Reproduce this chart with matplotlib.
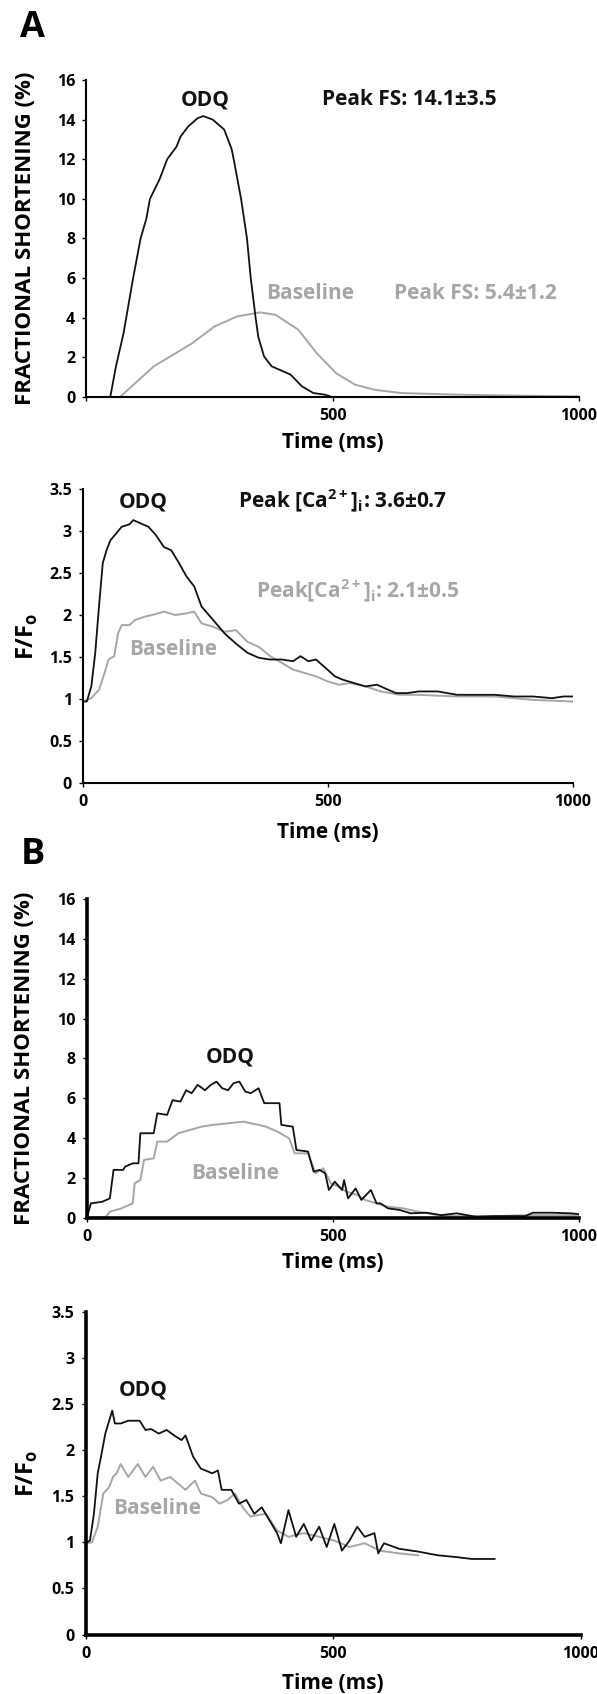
import numpy as np
import matplotlib
matplotlib.use('Agg')
import matplotlib.pyplot as plt

plt.rcParams['font.family'] = ['Open Sans', 'DejaVu Sans']
plt.rcParams['font.weight'] = 'bold'
plt.rcParams['mathtext.fontset'] = 'custom'
plt.rcParams['mathtext.bf'] = 'Open Sans:bold'
plt.rcParams['mathtext.rm'] = 'Open Sans:bold'

BLACK = '#111111'
GRAY = '#a6a6a6'

# ---- panel A, fractional shortening
a_fs_odq_t = [0, 48.5, 60, 75.5, 94.8, 110, 121.7, 129, 148.7, 164, 183, 191, 206.5, 225.7, 237, 256.5, 279.7,
              295, 299, 314, 326, 333.6, 343.6, 349, 360.6, 376, 399, 414.5, 437.6, 460.7, 483.8, 499]
a_fs_odq_v = [0, 0, 1.55, 3.23, 6.0, 8.0, 9.0, 10.0, 11.0, 12.0, 12.64, 13.14, 13.65, 14.07, 14.18, 14.0, 13.5,
              12.5, 12.0, 10.0, 8.0, 6.0, 3.98, 3.03, 2.05, 1.55, 1.3, 1.13, 0.54, 0.2, 0.12, 0.0]
a_fs_base_t = [0, 68, 137, 214, 260, 306.6, 353, 383.7, 430, 468, 507, 545.5, 584, 638, 753, 869, 1000]
a_fs_base_v = [0, 0, 1.55, 2.7, 3.56, 4.07, 4.27, 4.15, 3.4, 2.2, 1.2, 0.62, 0.37, 0.2, 0.12, 0.07, 0.03]

# ---- panel A, calcium transient
a_ca_odq_t = [0, 7.8, 17, 25, 32.6, 40.4, 48, 56, 67.6, 79, 95, 102.6, 118, 133.6, 149, 165, 180, 195.8, 211,
              227, 242, 265.7, 289, 312, 335.7, 359, 382, 405.6, 428.7, 444, 460, 475.5, 498.8, 514, 530, 553,
              576.5, 600, 615, 638.7, 662, 685, 724, 763, 802, 840.7, 879.6, 918, 957, 980.6, 1000]
a_ca_odq_v = [0.97, 0.97, 1.15, 1.55, 2.1, 2.62, 2.77, 2.89, 2.97, 3.05, 3.08, 3.13, 3.09, 3.05, 2.95, 2.81,
              2.77, 2.62, 2.46, 2.34, 2.1, 1.94, 1.78, 1.66, 1.55, 1.49, 1.47, 1.47, 1.45, 1.51, 1.45, 1.47,
              1.35, 1.27, 1.23, 1.19, 1.15, 1.17, 1.13, 1.07, 1.07, 1.09, 1.09, 1.05, 1.05, 1.05, 1.03, 1.03,
              1.01, 1.03, 1.03]
a_ca_base_t = [0, 17, 32.6, 44, 52, 63.7, 71.5, 79, 95, 106, 126, 141, 165, 188, 211, 227, 242, 265.7, 289,
               312, 335.7, 359, 382, 405.6, 428.7, 452, 475.5, 498.8, 522, 545, 576.5, 607.6, 646, 685, 763,
               840.7, 918, 1000]
a_ca_base_v = [0.97, 1.01, 1.11, 1.31, 1.47, 1.51, 1.78, 1.88, 1.88, 1.94, 1.98, 2.0, 2.04, 2.0, 2.02, 2.04,
               1.9, 1.86, 1.8, 1.82, 1.68, 1.62, 1.51, 1.43, 1.35, 1.31, 1.27, 1.21, 1.17, 1.19, 1.15, 1.09,
               1.05, 1.05, 1.03, 1.03, 0.99, 0.97]

# ---- panel B, fractional shortening
b_fs_odq_t = [0, 7.8, 31, 46.5, 54, 73.6, 77.5, 93, 104.7, 108.5, 135.7, 143, 163, 174, 190, 201.6, 213, 225,
              240, 252, 263.6, 275, 287, 298, 310, 322, 333, 349, 360.5, 391.5, 395.3, 418.6, 426, 449.6, 461,
              473, 484.5, 492, 504, 519, 523, 531, 546.5, 558, 577.5, 589, 597, 612, 635.7, 659, 690, 721, 752,
              790.7, 829.5, 891.5, 907, 946, 984.5, 1000]
b_fs_odq_v = [0, 0.72, 0.8, 0.97, 2.4, 2.4, 2.56, 2.73, 2.73, 4.24, 4.24, 5.24, 5.16, 5.9, 5.83, 6.4, 6.25,
              6.67, 6.4, 6.67, 6.83, 6.5, 6.4, 6.75, 6.83, 6.33, 6.25, 6.5, 5.75, 5.75, 4.66, 4.57, 3.4, 3.32,
              2.31, 2.4, 2.23, 1.39, 1.81, 1.39, 1.89, 0.97, 1.47, 0.89, 1.39, 0.72, 0.72, 0.47, 0.39, 0.22,
              0.25, 0.13, 0.22, 0.05, 0.08, 0.08, 0.25, 0.25, 0.22, 0.18]
b_fs_base_t = [0, 38.8, 46.5, 70, 93, 97, 108.5, 116, 135.7, 143, 163, 186, 209, 232.6, 256, 287, 318, 349, 364,
               387.6, 410.9, 422.5, 449.6, 465, 480.6, 496, 511.6, 527, 550, 566, 589, 612, 643, 674, 713, 752,
               829.5, 907, 1000]
b_fs_base_v = [0, 0.05, 0.3, 0.47, 0.72, 1.73, 1.89, 2.9, 2.98, 3.82, 3.82, 4.24, 4.4, 4.57, 4.66, 4.74, 4.82,
               4.66, 4.57, 4.32, 3.99, 3.23, 3.23, 2.23, 2.48, 1.73, 1.56, 1.31, 1.14, 0.89, 0.72, 0.55, 0.47,
               0.3, 0.13, 0.08, 0.08, 0.13, 0.13]

# ---- panel B, calcium transient
b_ca_odq_t = [0, 9, 17, 24.7, 32.4, 40, 47.8, 54, 59.4, 71, 86.4, 109.5, 121, 132.6, 148, 164, 179, 194, 202,
              217.4, 233, 256, 267.5, 275, 294.5, 310, 325, 341, 356, 371.6, 387, 394.8, 410, 425.6, 441, 456,
              472, 487.3, 502.7, 518, 533.5, 549, 564, 583.7, 591.4, 603, 633.8, 672, 711, 749.4, 780, 826.5]
b_ca_odq_v = [0.99, 1.02, 1.31, 1.75, 1.96, 2.18, 2.32, 2.43, 2.29, 2.29, 2.32, 2.32, 2.22, 2.23, 2.18, 2.22,
              2.16, 2.11, 2.16, 1.93, 1.8, 1.75, 1.78, 1.57, 1.57, 1.42, 1.46, 1.31, 1.38, 1.24, 1.1, 0.99, 1.35,
              1.06, 1.2, 1.02, 1.17, 0.95, 1.2, 0.91, 1.02, 1.17, 1.06, 1.1, 0.88, 0.99, 0.93, 0.9, 0.86, 0.84,
              0.82, 0.82]
b_ca_base_t = [0, 13, 24.7, 36, 47.8, 55.5, 63, 71, 86.4, 105.6, 121, 136.5, 152, 171, 186.6, 202, 221, 233, 256,
               271, 287, 302, 317.6, 333, 364, 387, 410, 441, 472, 502.7, 533.5, 564, 595, 634, 672]
b_ca_base_v = [0.99, 1.0, 1.17, 1.53, 1.6, 1.71, 1.75, 1.85, 1.71, 1.85, 1.71, 1.82, 1.67, 1.71, 1.64, 1.57,
               1.67, 1.53, 1.49, 1.42, 1.46, 1.53, 1.38, 1.28, 1.31, 1.13, 1.06, 1.1, 1.06, 1.02, 0.95, 0.99,
               0.91, 0.88, 0.86]

fs_ticks = [0, 2, 4, 6, 8, 10, 12, 14, 16]
ca_ticks = [0, 0.5, 1, 1.5, 2, 2.5, 3, 3.5]
ca_ticklabels = ['0', '0.5', '1', '1.5', '2', '2.5', '3', '3.5']

W, H = 597, 1694
fig = plt.figure(figsize=(W / 100, H / 100), dpi=100)

NOTE = 15


def add_axes(left, right, top, bottom):
    # pixel box -> figure fraction
    return fig.add_axes([left / W, 1 - bottom / H, (right - left) / W, (bottom - top) / H])


def style_axes(ax, box, spine_w, xlabels, label_y):
    left, right, top, bottom = box
    for s in ['top', 'right']:
        ax.spines[s].set_visible(False)
    for s in ['left', 'bottom']:
        ax.spines[s].set_linewidth(spine_w)
        ax.spines[s].set_color('black')
    ax.set_xlim(0, 1000)
    ax.set_xticks([0, 500, 1000])
    ax.set_xticklabels(xlabels)
    ax.tick_params(direction='out', length=3, width=1.0, labelsize=11.5, pad=5)
    for lab in ax.get_xticklabels() + ax.get_yticklabels():
        lab.set_fontweight('bold')
    ax.set_xlabel('Time (ms)', fontsize=15, fontweight='bold')
    ax.xaxis.label.set_va('center')
    ax.xaxis.set_label_coords(0.5, -(label_y - bottom) / (bottom - top))


def set_ylab(ax, box, text, size, x_px):
    left, right, top, bottom = box
    ax.set_ylabel(text, fontsize=size, fontweight='bold')
    ax.yaxis.label.set_va('center')
    ax.yaxis.set_label_coords((x_px - left) / (right - left), 0.5)


# ---------------- A top
box1 = (86.4, 579, 80, 397)
ax1 = add_axes(*box1)
ax1.plot(a_fs_base_t, a_fs_base_v, color=GRAY, lw=1.4)
ax1.plot(a_fs_odq_t, a_fs_odq_v, color=BLACK, lw=1.3)
ax1.set_ylim(0, 16)
ax1.set_yticks(fs_ticks)
style_axes(ax1, box1, 1.5, ['', '500', '1000'], 443)
set_ylab(ax1, box1, 'FRACTIONAL SHORTENING (%)', 16, 25)
ax1.text(241, 15.0, 'ODQ', ha='center', va='center', fontsize=NOTE, fontweight='bold', color=BLACK)
ax1.text(656, 15.0, 'Peak FS: 14.1±3.5', ha='center', va='center', fontsize=NOTE, fontweight='bold', color=BLACK)
ax1.text(454, 5.24, 'Baseline', ha='center', va='center', fontsize=NOTE, fontweight='bold', color=GRAY)
ax1.text(790, 5.24, 'Peak FS: 5.4±1.2', ha='center', va='center', fontsize=NOTE, fontweight='bold', color=GRAY)

# ---------------- A bottom
box2 = (83, 573, 489, 783)
ax2 = add_axes(*box2)
ax2.plot(a_ca_base_t, a_ca_base_v, color=GRAY, lw=1.4)
ax2.plot(a_ca_odq_t, a_ca_odq_v, color=BLACK, lw=1.3)
ax2.set_ylim(0, 3.5)
ax2.set_yticks(ca_ticks)
ax2.set_yticklabels(ca_ticklabels)
style_axes(ax2, box2, 1.5, ['0', '500', '1000'], 832)
set_ylab(ax2, box2, r'F/F$_{\mathbf{o}}$', 17, 27)
ax2.text(122, 3.35, 'ODQ', ha='center', va='center', fontsize=NOTE, fontweight='bold', color=BLACK)
ax2.text(316, 3.35, r'Peak [Ca$^{\mathbf{2+}}$]$_{\mathbf{i}}$: 3.6±0.7', ha='left', va='center',
         fontsize=NOTE, fontweight='bold', color=BLACK)
ax2.text(353, 2.28, r'Peak[Ca$^{\mathbf{2+}}$]$_{\mathbf{i}}$: 2.1±0.5', ha='left', va='center',
         fontsize=NOTE, fontweight='bold', color=GRAY)
ax2.text(184, 1.585, 'Baseline', ha='center', va='center', fontsize=NOTE, fontweight='bold', color=GRAY)

# ---------------- B top
box3 = (87, 578.6, 899, 1217.7)
ax3 = add_axes(*box3)
ax3.plot(b_fs_base_t, b_fs_base_v, color=GRAY, lw=1.4)
ax3.plot(b_fs_odq_t, b_fs_odq_v, color=BLACK, lw=1.3)
ax3.set_ylim(0, 16)
ax3.set_yticks(fs_ticks)
style_axes(ax3, box3, 2.6, ['0', '500', '1000'], 1263)
set_ylab(ax3, box3, 'FRACTIONAL SHORTENING (%)', 16, 25)
ax3.text(292, 8.09, 'ODQ', ha='center', va='center', fontsize=NOTE, fontweight='bold', color=BLACK)
ax3.text(302, 2.23, 'Baseline', ha='center', va='center', fontsize=NOTE, fontweight='bold', color=GRAY)

# ---------------- B bottom
box4 = (85.5, 580.5, 1312, 1634.5)
ax4 = add_axes(*box4)
ax4.plot(b_ca_base_t, b_ca_base_v, color=GRAY, lw=1.4)
ax4.plot(b_ca_odq_t, b_ca_odq_v, color=BLACK, lw=1.3)
ax4.set_ylim(0, 3.5)
ax4.set_yticks(ca_ticks)
ax4.set_yticklabels(ca_ticklabels)
style_axes(ax4, box4, 2.6, ['0', '500', '1000'], 1683)
set_ylab(ax4, box4, r'F/F$_{\mathbf{o}}$', 17, 27)
ax4.text(117, 2.65, 'ODQ', ha='center', va='center', fontsize=NOTE, fontweight='bold', color=BLACK)
ax4.text(144, 1.37, 'Baseline', ha='center', va='center', fontsize=NOTE, fontweight='bold', color=GRAY)

# panel letters
fig.text(20 / W, 1 - 28 / H, 'A', fontsize=26, fontweight='bold', va='center', ha='left')
fig.text(21 / W, 1 - 855 / H, 'B', fontsize=26, fontweight='bold', va='center', ha='left')

plt.savefig('out.png', dpi=100)
